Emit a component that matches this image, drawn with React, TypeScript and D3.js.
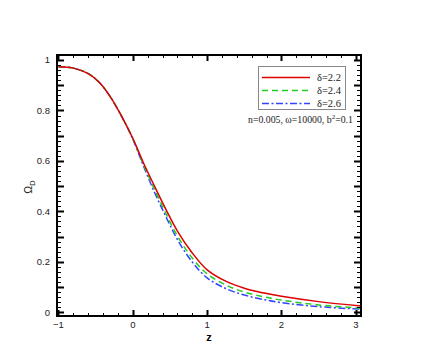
import React, { useEffect, useRef } from 'react';
import * as d3 from 'd3';

const zValues = [-1, -0.8, -0.6, -0.45, -0.3, -0.15, 0, 0.15, 0.3, 0.45, 0.6, 0.8, 1.0, 1.25, 1.5, 1.75, 2.0, 2.5, 3.07];
const omegaD22 = [0.973, 0.968, 0.946, 0.911, 0.853, 0.777, 0.69, 0.588, 0.495, 0.405, 0.322, 0.235, 0.168, 0.123, 0.095, 0.077, 0.063, 0.042, 0.025];
const omegaD24 = [0.973, 0.968, 0.946, 0.911, 0.853, 0.777, 0.688, 0.581, 0.482, 0.389, 0.302, 0.215, 0.152, 0.108, 0.08, 0.062, 0.048, 0.029, 0.016];
const omegaD26 = [0.973, 0.968, 0.946, 0.911, 0.853, 0.777, 0.686, 0.575, 0.47, 0.376, 0.288, 0.199, 0.136, 0.094, 0.068, 0.051, 0.038, 0.022, 0.012];

const seriesLabels = ['δ=2.2', 'δ=2.4', 'δ=2.6'];
const xTickLabels = [-1, 0, 1, 2, 3];
const yTickLabels = [0, 0.2, 0.4, 0.6, 0.8, 1];

const App = () => {
  const svgRef = useRef<SVGSVGElement>(null);

  useEffect(() => {
    const width = 436;
    const height = 357;
    const frame = { left: 57, right: 361, top: 55, bottom: 316 };

    const svg = d3.select(svgRef.current);
    svg.selectAll('*').remove();
    svg.attr('width', width).attr('height', height);

    const xScale = d3.scaleLinear().domain([-1.02, 3.07]).range([frame.left, frame.right]);
    const yScale = d3.scaleLinear().domain([-0.015, 1.02]).range([frame.bottom, frame.top]);

    const series = [
      { values: omegaD22, color: '#dd0000', dash: null },
      { values: omegaD24, color: '#22cc22', dash: '6,4' },
      { values: omegaD26, color: '#3344ff', dash: '7,2.5,2,2.5' },
    ];

    svg.append('clipPath').attr('id', 'plot-clip')
      .append('rect')
      .attr('x', frame.left)
      .attr('y', frame.top)
      .attr('width', frame.right - frame.left)
      .attr('height', frame.bottom - frame.top);

    const line = d3.line<number>()
      .x((_, i) => xScale(zValues[i]))
      .y(d => yScale(d))
      .curve(d3.curveCatmullRom.alpha(0.5));

    // draw blue first so red sits on top where curves overlap
    [...series].reverse().forEach(s => {
      svg.append('path')
        .datum(s.values)
        .attr('clip-path', 'url(#plot-clip)')
        .attr('fill', 'none')
        .attr('stroke', s.color)
        .attr('stroke-width', 1.5)
        .attr('stroke-dasharray', s.dash)
        .attr('d', line);
    });

    // ticks on all four sides, pointing inward
    const ticks = svg.append('g').attr('stroke', '#000').attr('stroke-width', 1);
    const xMinor = d3.range(-1, 3.01, 0.2).map(v => +v.toFixed(2));
    xMinor.forEach(v => {
      const isMajor = Math.abs(v - Math.round(v)) < 1e-6;
      const len = isMajor ? 6 : 3;
      const x = Math.round(xScale(v)) + 0.5;
      ticks.append('line').attr('x1', x).attr('x2', x).attr('y1', frame.bottom).attr('y2', frame.bottom - len)
        .attr('stroke-width', isMajor ? 2 : 1);
      ticks.append('line').attr('x1', x).attr('x2', x).attr('y1', frame.top).attr('y2', frame.top + len)
        .attr('stroke-width', isMajor ? 2 : 1);
    });
    const yMinor = d3.range(0, 1.001, 0.02).map(v => +v.toFixed(2));
    yMinor.forEach(v => {
      const isMajor = Math.abs(v * 10 - Math.round(v * 10)) < 1e-6;
      const len = isMajor ? 7 : 4;
      const y = Math.round(yScale(v)) + 0.5;
      ticks.append('line').attr('y1', y).attr('y2', y).attr('x1', frame.left).attr('x2', frame.left + len)
        .attr('stroke-width', isMajor ? 2 : 1);
      ticks.append('line').attr('y1', y).attr('y2', y).attr('x1', frame.right).attr('x2', frame.right - len)
        .attr('stroke-width', isMajor ? 2 : 1);
    });

    svg.append('rect')
      .attr('x', frame.left)
      .attr('y', frame.top)
      .attr('width', frame.right - frame.left)
      .attr('height', frame.bottom - frame.top)
      .attr('fill', 'none')
      .attr('stroke', '#000')
      .attr('stroke-width', 2);

    // tick labels
    const labelFont = 'Liberation Sans, Arial, sans-serif';
    svg.append('g').selectAll('text')
      .data(xTickLabels)
      .enter()
      .append('text')
      .attr('x', d => xScale(d))
      .attr('y', 328)
      .attr('text-anchor', 'middle')
      .style('font-family', labelFont)
      .style('font-size', '9.5px')
      .style('fill', '#222')
      .text(d => d3.format('')(d));

    svg.append('g').selectAll('text')
      .data(yTickLabels)
      .enter()
      .append('text')
      .attr('x', 50)
      .attr('y', d => yScale(d))
      .attr('dy', '0.35em')
      .attr('text-anchor', 'end')
      .style('font-family', labelFont)
      .style('font-size', '9.5px')
      .style('fill', '#222')
      .text(d => d3.format('')(d));

    // axis titles
    svg.append('text')
      .attr('x', 209)
      .attr('y', 341)
      .attr('text-anchor', 'middle')
      .style('font-family', labelFont)
      .style('font-size', '11px')
      .style('font-weight', 'bold')
      .text('z');

    const yTitle = svg.append('text')
      .attr('transform', 'translate(32,187) rotate(-90)')
      .attr('text-anchor', 'middle')
      .style('font-family', labelFont)
      .style('font-size', '10.5px')
      .style('fill', '#222');
    yTitle.append('tspan').text('Ω');
    yTitle.append('tspan').attr('dy', 3).style('font-size', '7.5px').text('D');

    // legend
    const legend = svg.append('g');
    legend.append('rect')
      .attr('x', 258.5)
      .attr('y', 66.5)
      .attr('width', 87)
      .attr('height', 43)
      .attr('fill', '#fff')
      .attr('stroke', '#888')
      .attr('stroke-width', 1);

    series.forEach((s, i) => {
      const y = 77.5 + i * 13;
      legend.append('line')
        .attr('x1', 262)
        .attr('x2', 310)
        .attr('y1', y)
        .attr('y2', y)
        .attr('stroke', s.color)
        .attr('stroke-width', 1.5)
        .attr('stroke-dasharray', s.dash);
      legend.append('text')
        .attr('x', 317)
        .attr('y', y)
        .attr('dy', '0.35em')
        .style('font-family', 'Liberation Serif, Times New Roman, serif')
        .style('font-size', '10.5px')
        .style('fill', '#222')
        .text(seriesLabels[i]);
    });

    const note = svg.append('text')
      .attr('x', 248)
      .attr('y', 123)
      .style('font-family', 'Liberation Serif, Times New Roman, serif')
      .style('font-size', '9.8px')
      .style('fill', '#222');
    note.append('tspan').text('n=0.005, ω=10000, b');
    note.append('tspan').attr('dy', -4).style('font-size', '7px').text('2');
    note.append('tspan').attr('dy', 4).text('=0.1');
  }, []);

  return <svg ref={svgRef} style={{ position: 'absolute', left: 0, top: 0 }}></svg>;
};

export default App;
